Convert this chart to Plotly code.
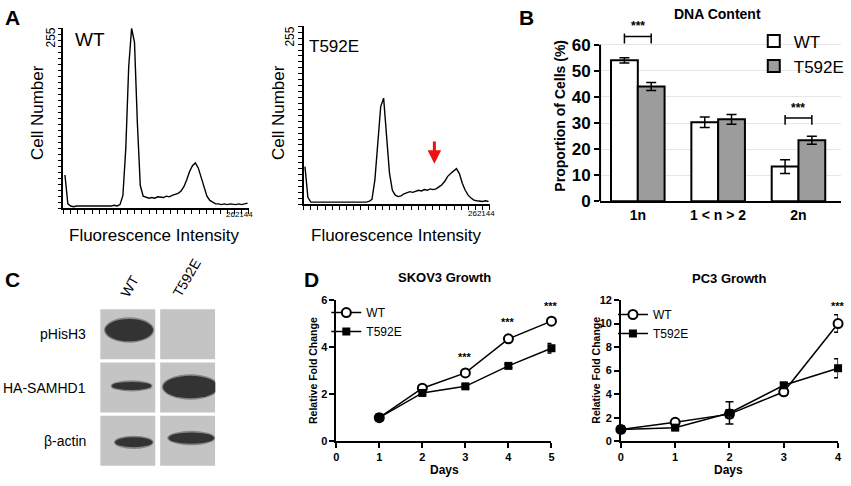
import numpy as np
import plotly.graph_objects as go

W, H = 851, 486
FONT = "Arial, Liberation Sans, sans-serif"


def px(x):
    return x / W


def py(y):
    return 1 - y / H


# ---- A: cell cycle histograms, 64 channels over 0..262144
hist_bins = np.arange(64) * 4096 + 2048
hist_wt = [47, 6,
           3, 2, 3, 3, 2, 3, 3, 2, 3, 3, 3, 2, 3, 3, 3, 4, 3,
           5, 18, 85, 200, 255, 235, 120, 32,
           17,
           15, 14, 15, 14, 16, 15, 15, 17, 16, 18, 19, 21, 24,
           30, 40, 52, 60, 64, 57, 43, 28, 17, 11, 8,
           6, 6, 5, 6, 5, 6, 5, 5, 6, 5, 6, 7]
hist_t592e = [54, 10,
              3, 3, 2, 3, 3, 2, 3, 2, 3, 3, 2, 3, 3, 3, 2, 3, 3, 2, 3, 3, 4,
              7, 35, 95, 140, 152, 100, 45, 20, 13, 11, 12,
              15, 16, 18, 17, 19, 20, 19,
              21, 20, 22, 21, 22,
              25, 28, 33, 40, 44, 47, 51, 44, 30, 20, 13, 9, 6, 5,
              4, 4, 5, 4]
arrow_x = 184000
arrow_tail = 92
arrow_head = 58

# ---- B: DNA content
dna_cats = ["1n", "1 < n > 2", "2n"]
dna_wt = [54.0, 30.3, 13.3]
dna_wt_err = [1.0, 2.0, 2.6]
dna_t592e = [44.0, 31.4, 23.4]
dna_t592e_err = [1.5, 1.9, 1.5]
dna_sig_cat = [0, 2]
dna_sig_y = [63.1, 31.9]

# ---- C: western blot (band extents are fractions of the lane box)
blot_rows = ["pHisH3", "HA-SAMHD1", "β-actin"]
blot_lanes = ["WT", "T592E"]
band_lane = [0, 0, 1, 0, 1]
band_row = [0, 1, 1, 2, 2]
band_left = [0.09, 0.21, 0.05, 0.27, 0.15]
band_right = [0.96, 0.93, 1.05, 0.95, 0.98]
band_mid = [0.42, 0.47, 0.49, 0.53, 0.45]
band_thick = [0.42, 0.15, 0.42, 0.19, 0.21]

# ---- D: growth curves
skov_days = [1, 2, 3, 4, 5]
skov_wt = [1.0, 2.25, 2.9, 4.35, 5.1]
skov_wt_err = [0.05, 0.1, 0.08, 0.08, 0.1]
skov_t592e = [1.0, 2.05, 2.33, 3.2, 3.95]
skov_t592e_err = [0.05, 0.08, 0.08, 0.08, 0.2]
skov_sig_days = [3, 4, 5]
skov_sig_y = [3.56, 5.07, 5.75]

pc3_days = [0, 1, 2, 3, 4]
pc3_wt = [1.0, 1.6, 2.3, 4.2, 10.0]
pc3_wt_err = [0.1, 0.25, 0.3, 0.3, 0.75]
pc3_t592e = [1.0, 1.15, 2.4, 4.75, 6.2]
pc3_t592e_err = [0.1, 0.15, 0.95, 0.2, 0.8]
pc3_sig_days = [4]
pc3_sig_y = [11.5]

fig = go.Figure()

# A histograms
for ax, vals in [("", hist_wt), ("2", hist_t592e)]:
    fig.add_trace(go.Scatter(x=hist_bins, y=vals, mode="lines",
                             line=dict(color="black", width=1.4),
                             xaxis="x" + ax, yaxis="y" + ax, showlegend=False))

# B bars
fig.add_trace(go.Bar(x=[0, 1, 2], y=dna_wt, name="WT",
                     marker=dict(color="white", line=dict(color="black", width=2)),
                     error_y=dict(type="data", array=dna_wt_err, color="black",
                                  thickness=1.5, width=5),
                     xaxis="x3", yaxis="y3", legend="legend"))
fig.add_trace(go.Bar(x=[0, 1, 2], y=dna_t592e, name="T592E",
                     marker=dict(color="#9c9c9c", line=dict(color="black", width=2)),
                     error_y=dict(type="data", array=dna_t592e_err, color="black",
                                  thickness=1.5, width=5),
                     xaxis="x3", yaxis="y3", legend="legend"))
bx, by = [], []
for c, h in zip(dna_sig_cat, dna_sig_y):
    a, b = c - 1 / 6, c + 1 / 6
    bx += [a, a, None, a, b, None, b, b, None]
    by += [h - 2.6, h + 1.2, None, h, h, None, h - 2.6, h + 1.2, None]
fig.add_trace(go.Scatter(x=bx, y=by, mode="lines", line=dict(color="black", width=1.5),
                         xaxis="x3", yaxis="y3", showlegend=False, hoverinfo="skip"))

# C blot: invisible axes, lanes 0..2, rows 0..3 (top down)
fig.add_trace(go.Scatter(x=[0, 2], y=[0, 3], mode="markers", marker=dict(opacity=0),
                         xaxis="x4", yaxis="y4", showlegend=False, hoverinfo="skip"))

# D growth curves
for ax, days, wt, wte, te, tee, lg in [
        ("5", skov_days, skov_wt, skov_wt_err, skov_t592e, skov_t592e_err, "legend2"),
        ("6", pc3_days, pc3_wt, pc3_wt_err, pc3_t592e, pc3_t592e_err, "legend3")]:
    fig.add_trace(go.Scatter(x=days, y=wt, name="WT", mode="lines+markers",
                             line=dict(color="black", width=1.5),
                             marker=dict(symbol="circle", size=9, color="white",
                                         line=dict(color="black", width=2)),
                             error_y=dict(type="data", array=wte, color="black",
                                          thickness=1.5, width=4),
                             cliponaxis=False, xaxis="x" + ax, yaxis="y" + ax, legend=lg))
    fig.add_trace(go.Scatter(x=days, y=te, name="T592E", mode="lines+markers",
                             line=dict(color="black", width=1.5),
                             marker=dict(symbol="square", size=8, color="black"),
                             error_y=dict(type="data", array=tee, color="black",
                                          thickness=1.5, width=4),
                             cliponaxis=False, xaxis="x" + ax, yaxis="y" + ax, legend=lg))

# ---------------- layout
hist_ax = dict(showline=True, linecolor="black", linewidth=1.5, ticks="outside",
               ticklen=4, tickcolor="black", tickwidth=1, showticklabels=False,
               showgrid=False, zeroline=False)
line_ax = dict(showline=True, linecolor="black", linewidth=1.5, ticks="outside",
               ticklen=5, tickcolor="black", tickwidth=1.5, showgrid=False, zeroline=False,
               tickfont=dict(family=FONT, size=11, color="black", weight="bold"))
hidden = dict(visible=False, showgrid=False, zeroline=False)

shapes = []
# y axis line of B stops at 60
shapes.append(dict(type="line", xref="x3 domain", yref="y3", x0=0, x1=0, y0=0, y1=60,
                   line=dict(color="black", width=2)))
# blot boxes and bands
lane_edges = [(0.0, 0.957), (1.043, 2.0)]
for li in range(len(blot_lanes)):
    for ri in range(len(blot_rows)):
        x0, x1 = lane_edges[li]
        shapes.append(dict(type="rect", xref="x4", yref="y4", x0=x0, x1=x1,
                           y0=ri + 0.03, y1=ri + 0.97, fillcolor="#c4c4c4",
                           line=dict(width=0), layer="below"))
for l, r, a, b, m, t in zip(band_lane, band_row, band_left, band_right, band_mid, band_thick):
    x0, x1 = lane_edges[l]
    w = x1 - x0
    shapes.append(dict(type="circle", xref="x4", yref="y4",
                       x0=x0 + a * w - 0.02, x1=x0 + b * w + 0.02,
                       y0=r + m - t / 2 - 0.03, y1=r + m + t / 2 + 0.03,
                       fillcolor="rgba(70,70,70,0.5)", line=dict(width=0)))
    shapes.append(dict(type="circle", xref="x4", yref="y4",
                       x0=x0 + a * w, x1=x0 + b * w,
                       y0=r + m - t / 2, y1=r + m + t / 2,
                       fillcolor="#333333", line=dict(width=0)))


def note(text, x, y, size, bold=False, angle=0, xanchor="center", xref="paper",
         yref="paper", **kw):
    if bold:
        text = "<b>" + text + "</b>"
    d = dict(text=text, x=x, y=y, xref=xref, yref=yref,
             showarrow=False, textangle=angle, xanchor=xanchor, yanchor="middle",
             font=dict(family=FONT, size=size, color="black"))
    d.update(kw)
    return d


ann = [
    note("A", px(10), py(12), 21, bold=True),
    note("B", px(528), py(12), 21, bold=True),
    note("C", px(10), py(283), 21, bold=True),
    note("D", px(311), py(283), 21, bold=True),
    # A
    note("WT", px(88), py(35), 19),
    note("T592E", px(334), py(42), 17),
    note("255", px(48), py(33), 12, angle=-90),
    note("255", px(289), py(32), 12, angle=-90),
    note("Cell Number", px(35), py(110), 17, angle=-90),
    note("Cell Number", px(278), py(110), 17, angle=-90),
    note("262144", px(238), py(216), 8),
    note("262144", px(482), py(215), 8),
    note("Fluorescence Intensity", px(153), py(237), 17),
    note("Fluorescence Intensity", px(397), py(237), 17),
    dict(x=arrow_x, y=arrow_head, ax=arrow_x, ay=arrow_tail, xref="x2", yref="y2",
         axref="x2", ayref="y2", text="", showarrow=True, arrowhead=2, arrowsize=0.9,
         arrowwidth=3, arrowcolor="#ee1111"),
    # B
    note("DNA Content", px(720), py(8), 14, bold=True),
    note("Proportion of Cells (%)", px(562), py(113), 14, bold=True, angle=-90),
]
for c, h in zip(dna_sig_cat, dna_sig_y):
    ann.append(note("***", c, h + 4.0, 12, bold=True, xref="x3", yref="y3"))
# C
for ri, name in enumerate(blot_rows):
    ann.append(note(name, px(86), ri + 0.5, 14, xanchor="right", yref="y4"))
lane_label_pos = [(128, 290), (185, 281)]
for name, (lx, ly) in zip(blot_lanes, lane_label_pos):
    ann.append(note(name, px(lx), py(ly), 14, angle=-60))
# D
ann += [
    note("SKOV3 Growth", px(445), py(281), 13, bold=True),
    note("PC3 Growth", px(732), py(282), 13, bold=True),
    note("Relative Fold Change", px(312), py(377), 10.5, bold=True, angle=-90),
    note("Relative Fold Change", px(597), py(377), 10.5, bold=True, angle=-90),
    note("Days", px(445), py(480), 12, bold=True),
    note("Days", px(732), py(480), 12, bold=True),
]
for d, s in zip(skov_sig_days, skov_sig_y):
    ann.append(note("***", d, s, 11, bold=True, xref="x5", yref="y5"))
for d, s in zip(pc3_sig_days, pc3_sig_y):
    ann.append(note("***", d, s, 11, bold=True, xref="x6", yref="y6"))

fig.update_layout(
    width=W, height=H, margin=dict(l=0, r=0, t=0, b=0),
    paper_bgcolor="white", plot_bgcolor="white",
    font=dict(family=FONT, color="black"),
    barmode="group", bargap=1 / 3, bargroupgap=0,
    xaxis=dict(domain=[px(61), px(248)], range=[0, 262144], anchor="y",
               tick0=0, dtick=10082, **hist_ax),
    yaxis=dict(domain=[py(209), py(23)], range=[0, 255], anchor="x",
               tick0=0, dtick=8.5, **hist_ax),
    xaxis2=dict(domain=[px(303), px(491)], range=[0, 262144], anchor="y2",
                tick0=0, dtick=10082, **hist_ax),
    yaxis2=dict(domain=[py(205), py(21)], range=[0, 255], anchor="x2",
                tick0=0, dtick=8.5, **hist_ax),
    xaxis3=dict(domain=[px(602), px(845)], range=[-0.47, 2.53], anchor="y3",
                tickvals=[0, 1, 2], ticktext=dna_cats, ticks="", showline=True,
                linecolor="black", linewidth=2, showgrid=False, zeroline=False,
                tickfont=dict(family=FONT, size=14, color="black", weight="bold")),
    yaxis3=dict(domain=[py(202), py(13)], range=[0, 70], anchor="x3",
                tickvals=[0, 10, 20, 30, 40, 50, 60], showline=False, ticks="outside",
                ticklen=5, tickwidth=2, tickcolor="black", showgrid=True,
                gridcolor="#e6e6e6", zeroline=False,
                tickfont=dict(family=FONT, size=17, color="black", weight="bold")),
    xaxis4=dict(domain=[px(98), px(214)], range=[0, 2], anchor="y4", **hidden),
    yaxis4=dict(domain=[py(477), py(312)], range=[3, 0], anchor="x4", **hidden),
    xaxis5=dict(domain=[px(336), px(553)], range=[0, 5], anchor="y5", dtick=1, **line_ax),
    yaxis5=dict(domain=[py(450), py(304)], range=[0, 6], anchor="x5", dtick=2, **line_ax),
    xaxis6=dict(domain=[px(623), px(842)], range=[0, 4], anchor="y6", dtick=1, **line_ax),
    yaxis6=dict(domain=[py(450), py(304)], range=[0, 12], anchor="x6", dtick=2, **line_ax),
    legend=dict(x=px(757), y=py(18), xanchor="left", yanchor="top",
                font=dict(family=FONT, size=17), bgcolor="rgba(0,0,0,0)",
                tracegroupgap=0),
    legend2=dict(x=px(326), y=py(302), xanchor="left", yanchor="top",
                 font=dict(family=FONT, size=12), bgcolor="rgba(0,0,0,0)"),
    legend3=dict(x=px(615), y=py(304), xanchor="left", yanchor="top",
                 font=dict(family=FONT, size=12), bgcolor="rgba(0,0,0,0)"),
    shapes=shapes, annotations=ann,
)

# the page body has a default 8px margin that would push the figure off the window
fig.write_html("out.html", config={"displayModeBar": False},
               post_script="document.body.style.margin='0';"
                           "document.body.style.overflow='hidden';")
